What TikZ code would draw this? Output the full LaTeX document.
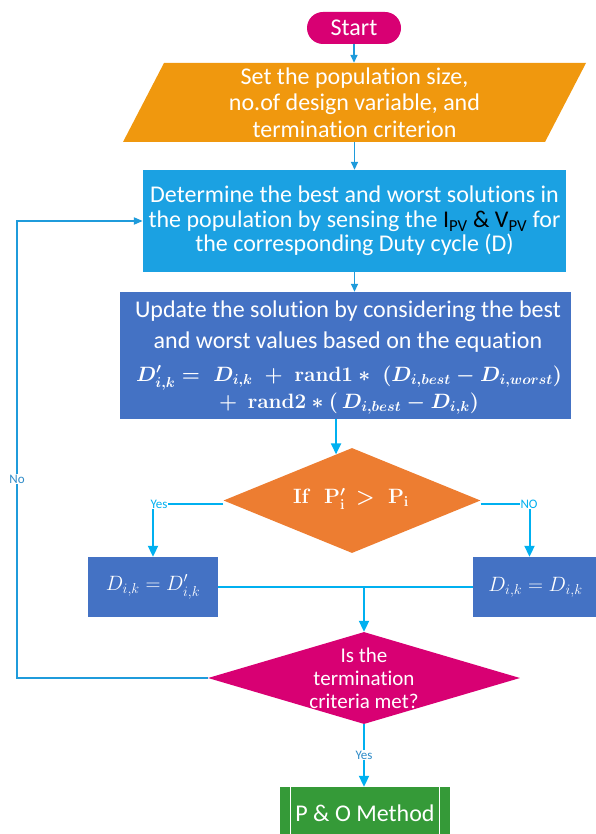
\documentclass[tikz,border=0pt]{standalone}
\usepackage[no-math]{fontspec}
\setmainfont{Carlito}[Ligatures=NoCommon]
\usepackage{amsmath,bm}
\usetikzlibrary{shapes.geometric,arrows.meta,calc}
\definecolor{cmag}{HTML}{D80073}
\definecolor{cpara}{HTML}{F0980E}
\definecolor{cbox1}{HTML}{1BA1E2}
\definecolor{cbox2}{HTML}{4472C4}
\definecolor{cdia1}{HTML}{ED7D31}
\definecolor{cgreen}{HTML}{359A38}
\definecolor{lineA}{HTML}{1F9BDB}
\definecolor{lineB}{HTML}{00B0F0}
\definecolor{labA}{HTML}{2E8BC8}
\begin{document}
\begin{tikzpicture}[x=1pt,y=-1pt,
  box/.style={draw=none, inner sep=0pt, align=center, text=white},
  txt/.style={inner sep=0pt, align=center, text=white},
  arrA/.style={draw=lineA, line width=1.6pt, -{Triangle[length=8pt,width=7pt]}},
  arrB/.style={draw=lineB, line width=2pt, -{Triangle[length=11pt,width=10pt]}},
  arrL/.style={draw=lineA, line width=2pt, -{Triangle[length=9pt,width=7pt]}},
  lineb/.style={draw=lineB, line width=2pt},
  lab/.style={font=\fontsize{13}{13}\selectfont, fill=white, inner sep=1pt},
]
\clip (0,0) rectangle (596,834);

% Start
\node[box, fill=cmag, rounded corners=16pt, minimum width=94pt, minimum height=32pt,
      font=\fontsize{24}{26}\selectfont] (start) at (354,28) {Start};

% parallelogram
\fill[cpara] (164,63) -- (586,63) -- (545,142) -- (123,142) -- cycle;
\node[box, minimum width=422pt, minimum height=79pt, font=\fontsize{24}{26.5}\selectfont]
  (para) at (354.5,102.5) {Set the population size,\\ no.of design variable, and\\ termination criterion};

% box1
\node[box, fill=cbox1, minimum width=423pt, minimum height=102pt, font=\fontsize{24}{24.5}\selectfont]
  (box1) at (354.5,221) {Determine the best and worst solutions in\\ the population by sensing the {\color{black}I\textsubscript{PV} \& V\textsubscript{PV}} for\\ the corresponding Duty cycle (D)};

% box2
\node[box, fill=cbox2, minimum width=451pt, minimum height=127pt] (box2) at (345.5,355.5) {};
\node[txt, font=\fontsize{24}{31}\selectfont] (box2t) at (348,327)
  {Update the solution by considering the best\\ and worst values based on the equation};
\node[txt, font=\fontsize{22}{27}\selectfont] (box2e) at (349,390)
  {{\boldmath$D^{\prime}_{i,k} = \; D_{i,k} \; + \; \mathbf{rand1} * \; (D_{i,best} - D_{i,worst})$}\\
   {\boldmath$+\;\, \mathbf{rand2} * (\,D_{i,best} - D_{i,k})$}};

% decision 1
\node[diamond, fill=cdia1, inner sep=0pt, minimum width=257pt, minimum height=105pt] (d1) at (352,500.5) {};
\node[txt, font=\fontsize{22}{24}\selectfont] (d1t) at (351,499)
  {{\boldmath$\mathbf{If}\;\;\mathbf{P}^{\prime}_{\mathbf{i}} \,>\; \mathbf{P}_{\mathbf{i}}$}};

% result boxes
\node[box, fill=cbox2, minimum width=130pt, minimum height=60pt, font=\fontsize{22}{24}\selectfont]
  (lbox) at (153,587) {$D_{i,k} = D^{\prime}_{i,k}$};
\node[box, fill=cbox2, minimum width=125pt, minimum height=60pt, font=\fontsize{22}{24}\selectfont]
  (rbox) at (535.5,587) {$D_{i,k} = D_{i,k}$};

% decision 2
\node[diamond, fill=cmag, inner sep=0pt, minimum width=312pt, minimum height=92pt] (d2) at (364,678) {};
\node[txt, font=\fontsize{21}{23}\selectfont] (d2t) at (364,678) {Is the\\ termination\\ criteria met?};

% P & O
\node[box, fill=cgreen, minimum width=170pt, minimum height=52pt, font=\fontsize{24}{26}\selectfont]
  (po) at (365,813) {P \& O Method};
\draw[white, line width=1.2pt] ([xshift=11pt]po.north west) -- ([xshift=11pt]po.south west);
\draw[white, line width=1.2pt] ([xshift=-11pt]po.north east) -- ([xshift=-11pt]po.south east);

% connectors
\draw[arrA] (start.south) -- (start.south |- para.north);
\draw[arrA] (para) -- (box1);
\draw[arrA] (box1.south) -- (box1.south |- box2.north);
\coordinate (d1in) at ($(d1.north)!0.124!(d1.west)$);
\draw[arrB] (box2.south -| d1in) -- (d1in);

\draw[arrB] ([yshift=-3pt]d1.west) -| (lbox.north);
\node[lab, text=lineB] (yes1) at (159,504) {Yes};
\draw[arrB] ([yshift=-3pt]d1.east) -| ([xshift=-6pt]rbox.north);
\node[lab, text=lineB] (no1) at (529,504) {NO};

\draw[lineb] (lbox.east) -- (rbox.west);
\draw[arrB] (lbox.east -| d2.north) -- (d2.north);

\coordinate (lx) at (17,0);
\draw[arrL] (d2.west) -- (d2.west -| lx) |- (box1.west);
\node[lab, text=labA] (no2) at (17,479) {No};

\draw[arrB] (d2.south) -- (d2.south |- po.north);
\node[lab, text=labA] (yes2) at (364,755) {Yes};
\end{tikzpicture}
\end{document}
